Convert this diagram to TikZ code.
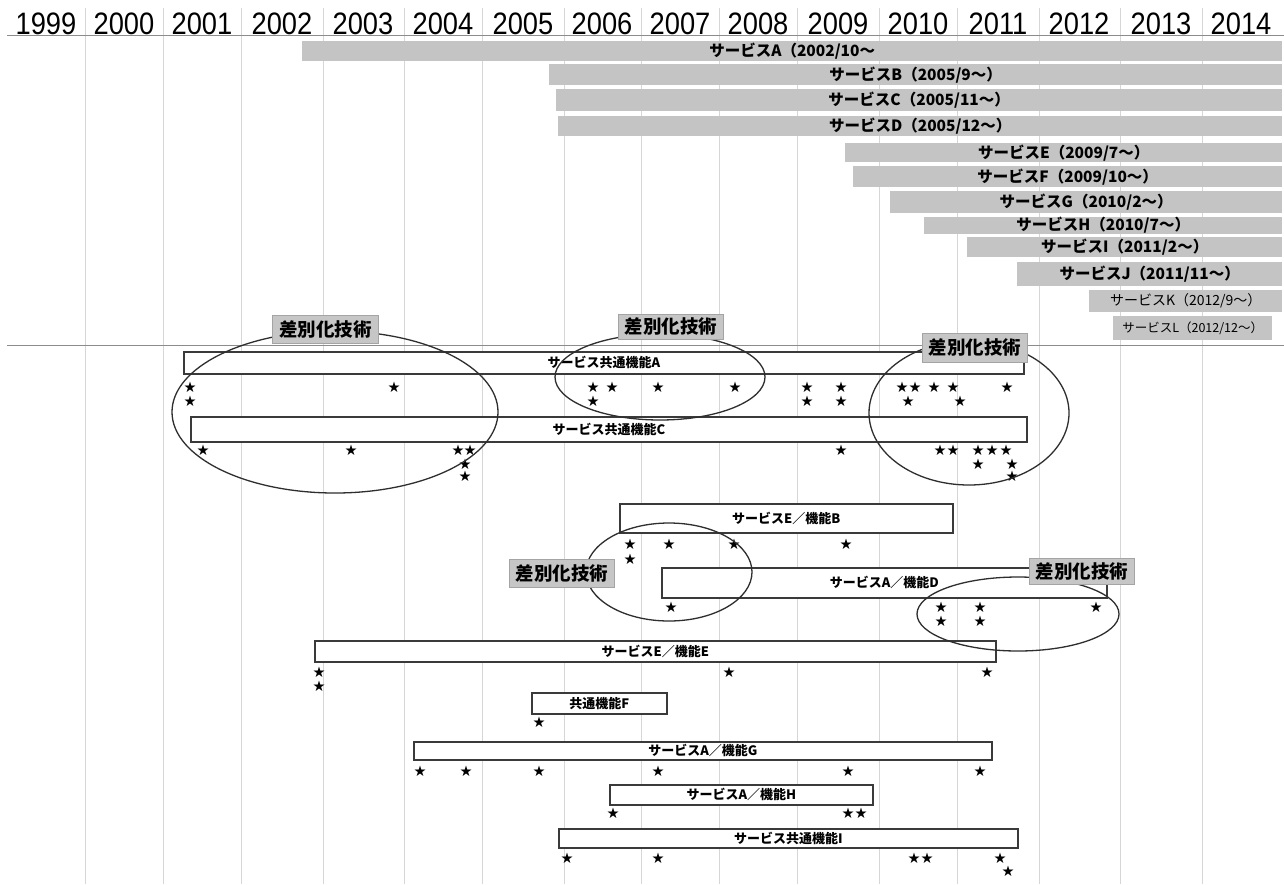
\documentclass[tikz,border=0pt]{standalone}
\usepackage{fontspec}
\setmainfont{Liberation Sans}
\newfontfamily\yearf[FakeStretch=0.88]{Liberation Sans}
\newfontfamily\jpf{Noto Sans CJK JP}
\newfontfamily\symf{DejaVu Sans}
\usetikzlibrary{shapes.geometric}
\definecolor{gridc}{HTML}{D6D6D6}
\definecolor{hlinec}{HTML}{8C8C8C}
\definecolor{barc}{HTML}{C4C4C4}
\definecolor{boxline}{HTML}{3A3A3A}
\definecolor{labfill}{HTML}{C6C6C6}
\definecolor{labline}{HTML}{A4A4A4}
\definecolor{ellc}{HTML}{2E2E2E}
\newcommand\mkbar[7]{% name,x1,y1,x2,y2,style,text
  \pgfmathsetmacro\bw{#4-#2}\pgfmathsetmacro\bh{#5-#3}%
  \node[#6, minimum width=\bw pt, minimum height=\bh pt, anchor=north west] (#1) at (#2,#3) {#7};}
\begin{document}
\begin{tikzpicture}[x=1pt,y=-1pt,
  gridst/.style={draw=gridc, line width=0.9pt},
  hline/.style={draw=hlinec, line width=0.9pt},
  yearst/.style={anchor=base, inner sep=0pt, font=\yearf\fontsize{31}{31}\selectfont},
  gbarst/.style={fill=barc, inner sep=0pt, font=\jpf\bfseries\fontsize{15.5}{16}\selectfont},
  gbarsm/.style={fill=barc, inner sep=0pt, font=\jpf\fontsize{14}{15}\selectfont},
  gbarxs/.style={fill=barc, inner sep=0pt, font=\jpf\fontsize{12.5}{13}\selectfont},
  wbox/.style={fill=white, draw=boxline, line width=1.7pt, inner sep=0pt, font=\jpf\bfseries\fontsize{13}{13}\selectfont},
  starmk/.style={inner sep=0pt, font=\symf\fontsize{14.5}{14.5}\selectfont},
  ellst/.style={ellipse, draw=ellc, line width=1.3pt, inner sep=0pt},
  labst/.style={fill=labfill, draw=labline, line width=0.8pt, inner sep=0pt, font=\jpf\bfseries\fontsize{18.5}{19}\selectfont}
]
\useasboundingbox[fill=white] (0,0) rectangle (1284,884);
% grid
\foreach \gx in {85,163,241,323,404,482,564,641,719,797,879,957,1039,1120,1202}
  \draw[gridst] (\gx,8) -- (\gx,884);
\draw[hline] (7,35) -- (1284,35);
\draw[hline] (7,345) -- (1284,345);
% years
\foreach \cx/\yr [count=\n] in {46/1999,124/2000,202/2001,282/2002,363/2003,443/2004,523/2005,602/2006,680/2007,758/2008,838/2009,918/2010,998/2011,1079/2012,1161/2013,1241/2014}
  \node[yearst] (yr\n) at (\cx,34) {\yr};
% service bars
\mkbar{bA}{302}{41}{1282}{61}{gbarst}{サービスA（2002/10～}
\mkbar{bB}{549}{64}{1282}{85}{gbarst}{サービスB（2005/9～）}
\mkbar{bC}{556}{89}{1282}{111}{gbarst}{サービスC（2005/11～）}
\mkbar{bD}{558}{116}{1282}{136}{gbarst}{サービスD（2005/12～）}
\mkbar{bE}{845}{143}{1282}{162}{gbarst}{サービスE（2009/7～）}
\mkbar{bF}{853}{166}{1282}{187}{gbarst}{サービスF（2009/10～）}
\mkbar{bG}{890}{191}{1282}{213}{gbarst}{サービスG（2010/2～）}
\mkbar{bH}{924}{217}{1282}{233}{gbarst}{サービスH（2010/7～）}
\mkbar{bI}{967}{237}{1282}{257}{gbarst}{サービスI（2011/2～）}
\mkbar{bJ}{1017}{262}{1282}{286}{gbarst}{サービスJ（2011/11～）}
\mkbar{bK}{1089}{290}{1282}{312}{gbarsm}{サービスK（2012/9～）}
\mkbar{bL}{1113}{316}{1272}{340}{gbarxs}{サービスL（2012/12～）}
% function boxes
\mkbar{fA}{183}{351}{1023}{373}{wbox}{サービス共通機能A}
\mkbar{fC}{190}{416}{1026}{441}{wbox}{サービス共通機能C}
\mkbar{fB}{619}{503}{952}{532}{wbox}{サービスE／機能B}
\mkbar{fD}{661}{567}{1106}{597}{wbox}{サービスA／機能D}
\mkbar{fE}{314}{640}{995}{661}{wbox}{サービスE／機能E}
\mkbar{fF}{531}{692}{666}{713}{wbox}{共通機能F}
\mkbar{fG}{413}{741}{991}{759}{wbox}{サービスA／機能G}
\mkbar{fH}{609}{784}{872}{804}{wbox}{サービスA／機能H}
\mkbar{fI}{558}{828}{1017}{847}{wbox}{サービス共通機能I}
% stars
\foreach \sx/\sy [count=\n] in {190/387,394/387,593/387,612/387,658/387,735/387,807/387,841/387,902/387,915/387,934/387,953/387,1007/387,
  190/401,593/401,807/401,841/401,908/401,960/401,
  203/450,351/450,458/450,470/450,841/450,940/450,953/450,978/450,992/450,1006/450,
  465/464,978/464,1012/464,
  465/476,1012/476,
  630/544,669/544,734/544,846/544,
  630/559,
  671/607,941/607,980/607,1096/607,
  941/621,980/621,
  319/672,729/672,987/672,
  319/686,
  539/722,
  420/771,466/771,539/771,658/771,848/771,980/771,
  613/813,848/813,861/813,
  567/858,658/858,914/858,927/858,1000/858,
  1008/871}
  \node[starmk] (st\n) at (\sx,\sy) {★};
% ellipses
\node[ellst, minimum width=326pt, minimum height=162pt] (el1) at (335,412) {};
\node[ellst, minimum width=210pt, minimum height=86pt] (el2) at (660,377) {};
\node[ellst, minimum width=200pt, minimum height=144pt] (el3) at (969,413) {};
\node[ellst, minimum width=166pt, minimum height=98pt] (el4) at (669,572) {};
\node[ellst, minimum width=202pt, minimum height=74pt] (el5) at (1018,614) {};
% labels
\mkbar{lb1}{272}{315}{378}{343}{labst}{差別化技術}
\mkbar{lb2}{618}{314}{723}{339}{labst}{差別化技術}
\mkbar{lb3}{922}{333}{1027}{362}{labst}{差別化技術}
\mkbar{lb4}{509}{559}{614}{587}{labst}{差別化技術}
\mkbar{lb5}{1029}{558}{1134}{584}{labst}{差別化技術}
\end{tikzpicture}
\end{document}
